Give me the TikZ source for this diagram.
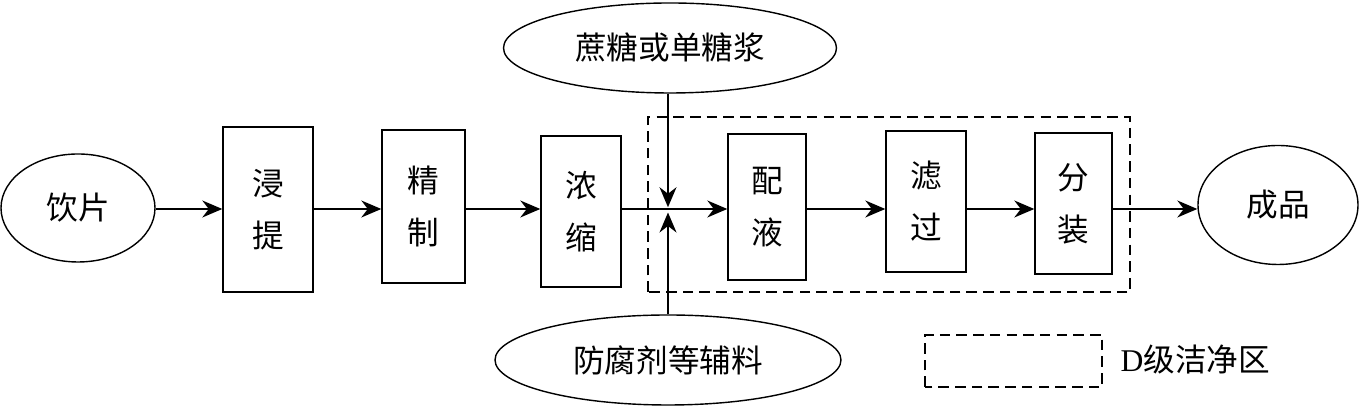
\documentclass[tikz,border=0pt]{standalone}
\usepackage{fontspec}
\setmainfont{Liberation Serif}
\newfontfamily\cjk{Noto Sans CJK SC}
\usetikzlibrary{shapes, positioning, arrows.meta, calc}

\begin{document}
\begin{tikzpicture}[
	line width=0.8pt,
	every node/.style={font=\cjk\fontsize{18}{29.5}\selectfont},
	stepbox/.style={draw, rectangle, inner sep=0pt, align=center},
	source/.style={draw, ellipse, inner sep=0pt},
	flow/.style={-{Stealth[length=4mm, width=3.4mm, inset=1.3mm]}},
	zone/.style={dash pattern=on 6pt off 3.5pt}
	]
	
	\useasboundingbox (0, 0) rectangle (27.18, 8.18);
	\coordinate (mainline) at (0, 4.0);
	\coordinate (mix) at (13.36, 4.0);
	
	% D-class clean zone
	\draw[zone] (12.96, 2.34) rectangle (22.6, 5.84);
	
	% Process chain
	\node[source, minimum width=3.08cm, minimum height=2.16cm] (yp) at (1.56, 4.02) {饮片};
	\node[stepbox, minimum width=1.8cm, minimum height=3.3cm] (jt) at (5.36, 3.99) {浸\\提};
	\node[stepbox, minimum width=1.66cm, minimum height=3.06cm] (jz) at (8.47, 4.05) {精\\制};
	\node[stepbox, minimum width=1.6cm, minimum height=3.02cm] (ns) at (11.62, 3.95) {浓\\缩};
	\node[stepbox, minimum width=1.56cm, minimum height=2.92cm] (py) at (15.34, 4.04) {配\\液};
	\node[stepbox, minimum width=1.6cm, minimum height=2.82cm] (lg) at (18.52, 4.15) {滤\\过};
	\node[stepbox, minimum width=1.54cm, minimum height=2.82cm] (fz) at (21.47, 4.11) {分\\装};
	\node[source, minimum width=3.2cm, minimum height=2.38cm] (cp) at (25.56, 4.08) {成品};
	
	% Added materials
	\node[source, minimum width=6.66cm, minimum height=1.8cm] (zt) at (13.4, 7.22) {蔗糖或单糖浆};
	\node[source, minimum width=6.92cm, minimum height=1.8cm] (ff) at (13.36, 0.98) {防腐剂等辅料};
	
	% Arrows
	\draw[flow] (yp.east |- mainline) -- (jt.west |- mainline);
	\draw[flow] (jt.east |- mainline) -- (jz.west |- mainline);
	\draw[flow] (jz.east |- mainline) -- (ns.west |- mainline);
	\draw[flow] (ns.east |- mainline) -- (py.west |- mainline);
	\draw[flow] (py.east |- mainline) -- (lg.west |- mainline);
	\draw[flow] (lg.east |- mainline) -- (fz.west |- mainline);
	\draw[flow] (fz.east |- mainline) -- (cp.west |- mainline);
	\draw[flow] (zt.south -| mix) -- ([yshift=1pt]mix);
	\draw[flow] (ff.north -| mix) -- ([yshift=-2pt]mix);
	
	% Legend
	\draw[zone] (18.5, 0.44) rectangle (22.04, 1.48);
	\node[anchor=west, inner sep=0pt] (legend) at (22.4, 0.98) {\rmfamily D\cjk 级洁净区};
	
\end{tikzpicture}
\end{document}
